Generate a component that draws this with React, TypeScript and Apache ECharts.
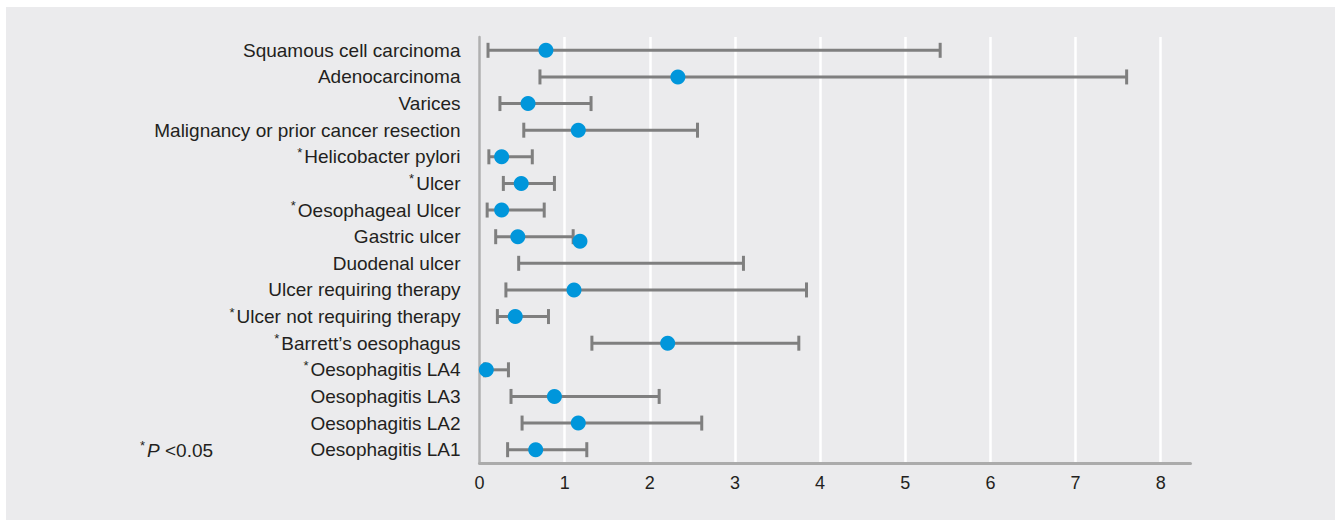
import React, { useEffect, useRef } from "react";
import * as echarts from "echarts";

// Odds ratios with 95% confidence intervals, listed top to bottom
const categories = [
  "Squamous cell carcinoma",
  "Adenocarcinoma",
  "Varices",
  "Malignancy or prior cancer resection",
  "*Helicobacter pylori",
  "*Ulcer",
  "*Oesophageal Ulcer",
  "Gastric ulcer",
  "Duodenal ulcer",
  "Ulcer requiring therapy",
  "*Ulcer not requiring therapy",
  "*Barrett\u2019s oesophagus",
  "*Oesophagitis LA4",
  "Oesophagitis LA3",
  "Oesophagitis LA2",
  "Oesophagitis LA1",
];

const estimate = [0.78, 2.33, 0.57, 1.16, 0.26, 0.49, 0.26, 0.45, 1.18, 1.11, 0.42, 2.21, 0.08, 0.88, 1.16, 0.66];
const lower = [0.10, 0.71, 0.24, 0.52, 0.11, 0.28, 0.09, 0.19, 0.46, 0.31, 0.21, 1.32, 0.06, 0.37, 0.50, 0.33];
const upper = [5.41, 7.60, 1.31, 2.56, 0.62, 0.88, 0.76, 1.10, 3.10, 3.84, 0.81, 3.75, 0.34, 2.11, 2.61, 1.26];

// the duodenal ulcer point sits slightly below the gastric ulcer row
const shiftedPoint = "Duodenal ulcer";

const xTicks = [0, 1, 2, 3, 4, 5, 6, 7, 8];

const FONT = "'Liberation Sans', Arial, sans-serif";
const TEXT = "#231f20";
const BAR = "#7f7f7f";
const DOT = "#0096db";
const PANEL = "#ebebed";

export default function App() {
  const ref = useRef<HTMLDivElement>(null);

  useEffect(() => {
    document.body.style.margin = "0";
    if (!ref.current) return;
    const chart = echarts.init(ref.current, undefined, { renderer: "svg" });

    const intervals = categories.map((_, i) => [lower[i], upper[i], i]);
    const points = categories.map((c, i) =>
      c === shiftedPoint
        ? { value: [estimate[i], i], symbolOffset: [0, -22] }
        : { value: [estimate[i], i] }
    );

    chart.setOption({
      animation: false,
      backgroundColor: PANEL,
      textStyle: { fontFamily: FONT },
      grid: { left: 473.5, right: 144.5, top: 30, bottom: 57 },
      xAxis: {
        type: "value",
        min: 0,
        max: 8.35,
        interval: 1,
        axisLine: { show: true, lineStyle: { color: "#ababab", width: 3 } },
        axisTick: { show: false },
        splitLine: {
          show: true,
          showMinLine: false,
          showMaxLine: false,
          lineStyle: { color: "#ffffff", width: 2.5 },
        },
        axisLabel: {
          showMaxLabel: false,
          fontSize: 18,
          color: TEXT,
          fontFamily: FONT,
          margin: 11,
          formatter: (v: number) => (xTicks.includes(v) ? String(v) : ""),
        },
      },
      yAxis: {
        type: "category",
        data: categories,
        inverse: true,
        axisLine: { show: true, lineStyle: { color: "#b0b0b0", width: 2.5 } },
        axisTick: { show: false },
        splitLine: { show: false },
        axisLabel: {
          fontSize: 19,
          color: TEXT,
          fontFamily: FONT,
          margin: 19,
          lineHeight: 22,
          formatter: (v: string) => (v.startsWith("*") ? "{s|*}" + v.slice(1) : v),
          rich: {
            s: { fontSize: 13, lineHeight: 20, verticalAlign: "top", color: TEXT, fontFamily: FONT, padding: [0, 2, 0, 0] },
          },
        },
      },
      graphic: [
        {
          type: "text",
          x: 134,
          y: 443,
          style: {
            text: "{s|*}{i|P}{n| <0.05}",
            verticalAlign: "middle",
            rich: {
              s: { fontSize: 13, lineHeight: 20, verticalAlign: "top", fill: TEXT, fontFamily: FONT, padding: [0, 2, 0, 0] },
              i: { fontSize: 19, lineHeight: 22, fontStyle: "italic", fill: TEXT, fontFamily: FONT },
              n: { fontSize: 19, lineHeight: 22, fill: TEXT, fontFamily: FONT },
            },
          },
        },
      ],
      series: [
        {
          type: "custom",
          data: intervals,
          encode: { x: [0, 1], y: 2 },
          z: 2,
          renderItem: (_params: any, api: any) => {
            const lo = api.coord([api.value(0), api.value(2)]);
            const hi = api.coord([api.value(1), api.value(2)]);
            const h = 7.5;
            const style = { stroke: BAR, lineWidth: 3 };
            return {
              type: "group",
              children: [
                { type: "line", shape: { x1: lo[0], y1: lo[1], x2: hi[0], y2: hi[1] }, style },
                { type: "line", shape: { x1: lo[0], y1: lo[1] - h, x2: lo[0], y2: lo[1] + h }, style },
                { type: "line", shape: { x1: hi[0], y1: hi[1] - h, x2: hi[0], y2: hi[1] + h }, style },
              ],
            };
          },
        },
        {
          type: "scatter",
          data: points,
          symbol: "circle",
          symbolSize: 15,
          z: 3,
          itemStyle: { color: DOT, opacity: 1 },
        },
      ],
    });

    return () => chart.dispose();
  }, []);

  return (
    <div style={{ position: "fixed", left: 0, top: 0, right: 0, bottom: 0, background: PANEL, overflow: "hidden" }}>
      <div style={{ position: "absolute", left: 0, top: 0, width: "100%", height: 7, background: "#ffffff" }} />
      <div style={{ position: "absolute", left: 0, top: 0, width: 6, height: "100%", background: "#ffffff" }} />
      <div ref={ref} style={{ position: "absolute", left: 6, top: 7, width: 1329, height: 513 }} />
    </div>
  );
}
